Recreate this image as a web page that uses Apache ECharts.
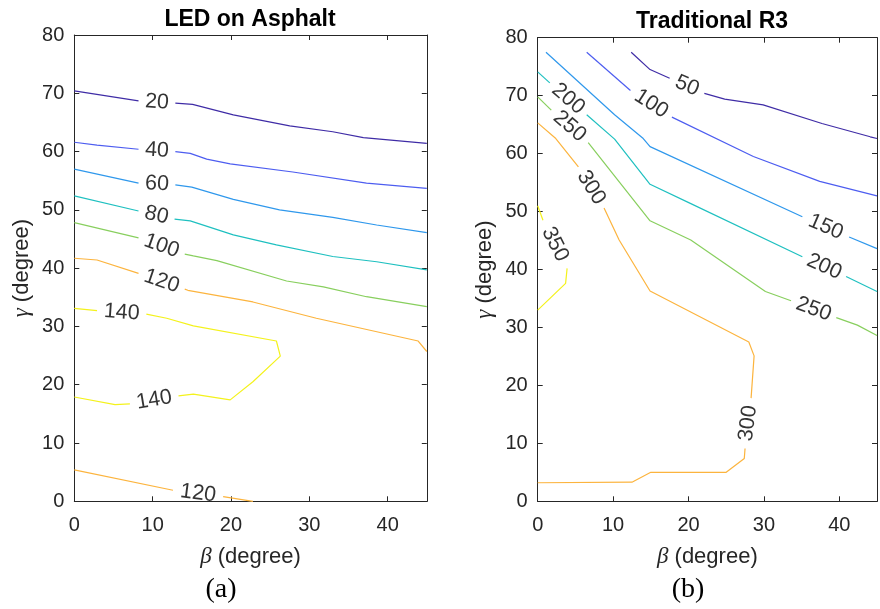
<!DOCTYPE html>
<html>
<head>
<meta charset="utf-8">
<script src="https://cdn.jsdelivr.net/npm/echarts@6/dist/echarts.min.js"></script>
<style>
  html, body { margin: 0; padding: 0; background: #fff; }
  #chart { width: 880px; height: 609px; }
</style>
</head>
<body>
<div id="chart"></div>
<script>
// Axis ranges and tick labels
const betaTicks = [0, 10, 20, 30, 40];
const gammaTicks = [0, 10, 20, 30, 40, 50, 60, 70, 80];

// (a) LED on Asphalt — contour levels, each contour as polyline pieces [β, γ];
// a label sits in each break between consecutive pieces.
const ledLevels = [20, 40, 60, 80, 100, 120, 140];
const led20 = [
  [[0, 70.4], [8.2, 68.7]],
  [[12.9, 68.3], [15.1, 68.1], [20.3, 66.3], [27.5, 64.4], [33.0, 63.4], [36.9, 62.4], [45, 61.4]]
];
const led40 = [
  [[0, 61.6], [2.9, 61.1], [8.2, 60.4]],
  [[12.9, 60.0], [14.8, 59.7], [16.9, 58.7], [19.9, 57.9], [27.9, 56.5], [37.3, 54.6], [45, 53.7]]
];
const led60 = [
  [[0, 57.0], [8.2, 54.6]],
  [[12.9, 54.3], [15.0, 53.9], [20.3, 51.8], [26.2, 50.0], [33.0, 48.7], [38.6, 47.4], [45, 46.1]]
];
const led80 = [
  [[0, 52.4], [8.2, 49.8]],
  [[12.8, 48.4], [14.8, 48.1], [20.3, 45.7], [25.8, 44.0], [33.0, 42.0], [38.6, 41.1], [45, 39.7]]
];
const led100 = [
  [[0, 47.8], [8.2, 45.2]],
  [[14.1, 42.4], [15.2, 42.1], [18.2, 41.3], [27.1, 37.8], [31.8, 36.8], [37.3, 35.1], [45, 33.4]]
];
const led120 = [
  [[0, 41.7], [2.9, 41.4], [8.2, 39.1]],
  [[14.1, 36.4], [14.5, 36.2], [22.8, 34.2], [30.9, 31.4], [43.9, 27.5], [45, 25.7]]
];
const led120low = [
  [[0, 5.4], [12.6, 1.9]],
  [[19.0, 0.8], [22.8, 0]]
];
const led140 = [
  [[0, 33.1], [2.9, 32.7]],
  [[9.2, 32.1], [11.8, 31.4], [15.2, 30.1], [25.8, 27.5], [26.3, 24.9], [22.8, 20.5], [19.9, 17.4], [15.2, 18.4], [13.3, 18.1]],
  [[7.1, 16.7], [5.2, 16.6], [0, 17.9]]
];

// (b) Traditional R3
const r3Levels = [50, 100, 150, 200, 250, 300, 350];
const r350 = [
  [[12.4, 77.5], [14.9, 74.5], [17.5, 73.0]],
  [[22.1, 70.4], [24.8, 69.4], [29.9, 68.4], [37.7, 65.2], [44.1, 62.9], [45, 62.6]]
];
const r3100 = [
  [[6.5, 77.5], [12.3, 70.9]],
  [[17.8, 66.3], [28.6, 59.5], [37.4, 55.2], [45, 52.7]]
];
const r3150 = [
  [[1.1, 77.5], [10.2, 66.7], [14.0, 62.6], [14.9, 61.2], [35.1, 49.1]],
  [[41.3, 45.6], [45, 43.6]]
];
const r3200 = [
  [[0, 74.1], [1.6, 72.2]],
  [[6.5, 66.7], [10.2, 62.5], [14.9, 54.7], [20.1, 51.5], [35.1, 42.2]],
  [[40.9, 38.8], [45, 36.2]]
];
const r3250 = [
  [[0, 69.8], [1.8, 67.5]],
  [[6.7, 61.9], [14.9, 48.4], [20.3, 45.1], [30.2, 36.2], [33.6, 34.6]],
  [[39.6, 31.7], [42.4, 30.4], [45, 28.6]]
];
const r3300 = [
  [[0, 65.3], [2.4, 62.6], [5.4, 57.7]],
  [[8.8, 50.6], [10.8, 45.1], [14.9, 36.3], [28.0, 27.5], [28.7, 25.1], [28.3, 17.8]],
  [[27.5, 9.1], [27.4, 7.4], [25.0, 5.0], [15.0, 5.0], [12.5, 3.3], [0, 3.2]]
];
const r3350 = [
  [[0, 51.0], [0.7, 48.5]],
  [[3.9, 40.2], [3.7, 37.6], [0, 33.0]]
];

// parula-like contour colours, lowest to highest level
const levelColors = ['#3f2ca6', '#4d5df0', '#2f98ec', '#1fc0c0', '#88cf5e', '#fcb43e', '#f4f21c'];

const ledContours = [
  { level: 20, pieces: led20 }, { level: 40, pieces: led40 }, { level: 60, pieces: led60 },
  { level: 80, pieces: led80 }, { level: 100, pieces: led100 }, { level: 120, pieces: led120 },
  { level: 120, pieces: led120low }, { level: 140, pieces: led140 }
];
const r3Contours = [
  { level: 50, pieces: r350 }, { level: 100, pieces: r3100 }, { level: 150, pieces: r3150 },
  { level: 200, pieces: r3200 }, { level: 250, pieces: r3250 }, { level: 300, pieces: r3300 },
  { level: 350, pieces: r3350 }
];

const FONT = '"Liberation Sans", Arial, sans-serif';
const SERIF = '"Liberation Serif", "Times New Roman", serif';
const AXIS = '#262626';

const grids = [
  { left: 74.3, top: 35, width: 352.5, height: 466.3 },
  { left: 537.7, top: 37.7, width: 349, height: 463.6 }
];

function xAxesFor(gi) {
  const common = {
    gridIndex: gi, type: 'value', min: 0, max: 45, interval: 10,
    axisLine: { onZero: false, lineStyle: { color: AXIS, width: 1 } },
    axisTick: { inside: true, length: 5, lineStyle: { color: AXIS } },
    splitLine: { show: false }
  };
  return [
    Object.assign({}, common, {
      position: 'bottom',
      name: '{g|β} (degree)', nameLocation: 'middle', nameGap: 44,
      nameTextStyle: {
        color: AXIS, fontSize: 22, fontFamily: FONT,
        rich: { g: { fontStyle: 'italic', fontFamily: SERIF, fontSize: 23, color: AXIS } }
      },
      axisLabel: {
        margin: 14, color: AXIS, fontSize: 20, fontFamily: FONT,
        formatter: v => (betaTicks.indexOf(v) >= 0 ? String(v) : '')
      }
    }),
    Object.assign({}, common, { position: 'top', axisLabel: { show: false } })
  ];
}

function yAxesFor(gi) {
  const common = {
    gridIndex: gi, type: 'value', min: 0, max: 80, interval: 10,
    axisLine: { onZero: false, lineStyle: { color: AXIS, width: 1 } },
    axisTick: { inside: true, length: 5, lineStyle: { color: AXIS } },
    splitLine: { show: false }
  };
  return [
    Object.assign({}, common, {
      position: 'left',
      name: '{g|γ} (degree)', nameLocation: 'middle', nameGap: 41,
      nameTextStyle: {
        color: AXIS, fontSize: 22, fontFamily: FONT,
        rich: { g: { fontStyle: 'italic', fontFamily: SERIF, fontSize: 23, color: AXIS } }
      },
      axisLabel: {
        margin: 10, color: AXIS, fontSize: 20, fontFamily: FONT,
        formatter: v => (gammaTicks.indexOf(v) >= 0 ? String(v) : '')
      }
    }),
    Object.assign({}, common, { position: 'right', axisLabel: { show: false } })
  ];
}

function lineSeries(contours, levels, gi) {
  const out = [];
  contours.forEach(c => {
    const color = levelColors[levels.indexOf(c.level)];
    c.pieces.forEach(piece => {
      out.push({
        type: 'line', xAxisIndex: gi * 2, yAxisIndex: gi * 2,
        data: piece, showSymbol: false, symbol: 'none', silent: true,
        lineStyle: { color: color, width: 1.2 }, z: 2
      });
    });
  });
  return out;
}

const chart = echarts.init(document.getElementById('chart'));

const titleFont = 'bold 23px "Liberation Sans", Arial, sans-serif';
const tagFont = '28px "Liberation Serif", "Times New Roman", serif';

const baseOption = {
  animation: false,
  backgroundColor: '#fff',
  grid: grids,
  xAxis: xAxesFor(0).concat(xAxesFor(1)),
  yAxis: yAxesFor(0).concat(yAxesFor(1)),
  graphic: [
    { type: 'text', x: 250, y: 20, style: { text: 'LED on Asphalt', fill: '#000', font: titleFont, align: 'center', verticalAlign: 'middle', textAlign: 'center', textVerticalAlign: 'middle' } },
    { type: 'text', x: 712, y: 22, style: { text: 'Traditional R3', fill: '#000', font: titleFont, align: 'center', verticalAlign: 'middle', textAlign: 'center', textVerticalAlign: 'middle' } },
    { type: 'text', x: 221, y: 590, style: { text: '(a)', fill: '#000', font: tagFont, align: 'center', verticalAlign: 'middle', textAlign: 'center', textVerticalAlign: 'middle' } },
    { type: 'text', x: 688, y: 590, style: { text: '(b)', fill: '#000', font: tagFont, align: 'center', verticalAlign: 'middle', textAlign: 'center', textVerticalAlign: 'middle' } }
  ],
  series: lineSeries(ledContours, ledLevels, 0).concat(lineSeries(r3Contours, r3Levels, 1))
};
chart.setOption(baseOption);

// Contour labels: centred in each break, turned along the chord of the break.
function labelSeries(contours, gi) {
  const data = [];
  contours.forEach(c => {
    for (let i = 0; i + 1 < c.pieces.length; i++) {
      const a = c.pieces[i][c.pieces[i].length - 1];
      const b = c.pieces[i + 1][0];
      const pa = chart.convertToPixel({ gridIndex: gi }, a);
      const pb = chart.convertToPixel({ gridIndex: gi }, b);
      let ang = -Math.atan2(pb[1] - pa[1], pb[0] - pa[0]) * 180 / Math.PI;
      if (ang > 90) ang -= 180;
      if (ang <= -90) ang += 180;
      data.push({
        name: String(c.level),
        value: [(a[0] + b[0]) / 2, (a[1] + b[1]) / 2],
        label: { rotate: ang }
      });
    }
  });
  return {
    type: 'scatter', xAxisIndex: gi * 2, yAxisIndex: gi * 2,
    symbolSize: 0, silent: true, z: 5, data: data,
    label: {
      show: true, position: 'inside', formatter: '{b}',
      color: '#000', fontSize: 21.5, fontFamily: FONT,
      align: 'center', verticalAlign: 'middle'
    }
  };
}

chart.setOption({
  series: baseOption.series.concat([labelSeries(ledContours, 0), labelSeries(r3Contours, 1)])
});
</script>
</body>
</html>
